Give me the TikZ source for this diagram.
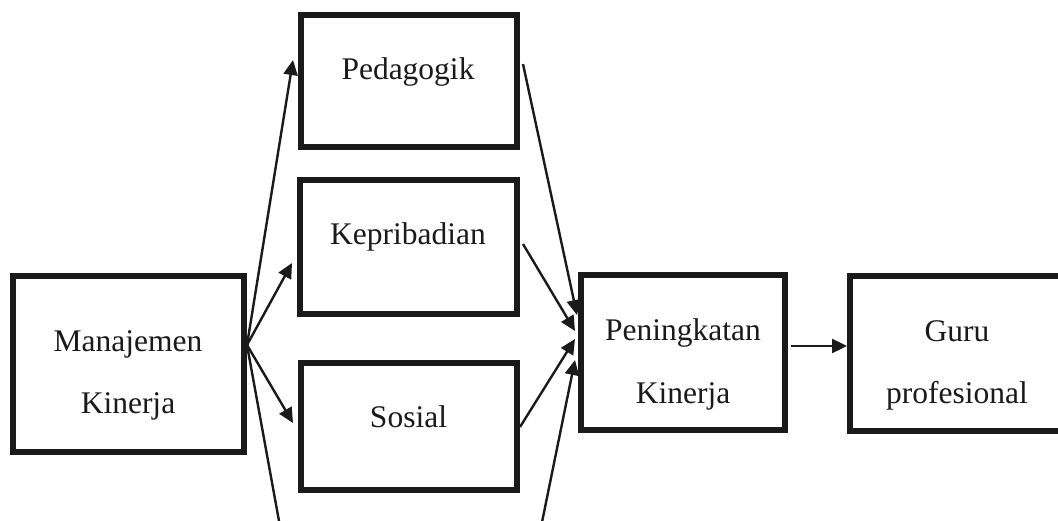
\documentclass[tikz,border=0pt]{standalone}
\usepackage{fontspec}
\setmainfont{Liberation Serif}
\usetikzlibrary{arrows.meta}
\definecolor{ink}{HTML}{1A1A1A}
\begin{document}
\begin{tikzpicture}[x=1pt,y=-1pt,
  box/.style={draw=ink,line width=6pt,inner sep=0pt},
  lbl/.style={anchor=base,inner sep=0pt,text=ink,font=\fontsize{31.5}{63}\selectfont},
  conn/.style={draw=ink,line width=2.4pt},
  arr/.style={conn,-{Triangle[length=15pt,width=14pt]}}]
\useasboundingbox (0,0) rectangle (1058,520);
\clip (0,0) rectangle (1058,520);
\fill[white] (0,0) rectangle (1058,520);
% boxes
\node[box,minimum width=231pt,minimum height=176pt] (man) at (128.5,364) {};
\node[box,minimum width=216pt,minimum height=132pt] (ped) at (409,81) {};
\node[box,minimum width=217pt,minimum height=134pt] (kep) at (408.5,247) {};
\node[box,minimum width=216pt,minimum height=127pt] (sos) at (409,426.5) {};
\node[box,minimum width=204pt,minimum height=155pt] (pen) at (683,352.5) {};
\node[box,minimum width=214pt,minimum height=155pt] (guru) at (957,353.5) {};
% texts
\node[lbl] (man1) at (128,351) {Manajemen};
\node[lbl] (man2) at (128,413) {Kinerja};
\node[lbl] (pedt) at (408,79) {Pedagogik};
\node[lbl] (kept) at (408,244) {Kepribadian};
\node[lbl] (sost) at (408.5,427) {Sosial};
\node[lbl] (pen1) at (683,340) {Peningkatan};
\node[lbl] (pen2) at (683,403) {Kinerja};
\node[lbl] (guru1) at (957,341) {Guru};
\node[lbl] (guru2) at (957,403) {profesional};
% connector end points
\coordinate (mo) at (247,345);
\coordinate (tped) at (293,60);
\coordinate (tkep) at (292,263);
\coordinate (tsos) at (293,423);
\coordinate (bl) at (281,532);
\coordinate (sped) at (523,64);
\coordinate (skep) at (523,244);
\coordinate (ssos) at (520,427);
\coordinate (br) at (540,532);
\coordinate (p1) at (577,315);
\coordinate (p2) at (575,331);
\coordinate (p3) at (575,339);
\coordinate (p4) at (575,360);
\coordinate (gs) at (791,346);
\coordinate (ge) at (847,346);
% connectors
\draw[arr] (mo) -- (tped);
\draw[arr] (mo) -- (tkep);
\draw[arr] (mo) -- (tsos);
\draw[conn] (mo) -- (bl);
\draw[arr] (sped) -- (p1);
\draw[arr] (skep) -- (p2);
\draw[arr] (ssos) -- (p3);
\draw[arr] (br) -- (p4);
\draw[arr] (gs) -- (ge);
\end{tikzpicture}
\end{document}
